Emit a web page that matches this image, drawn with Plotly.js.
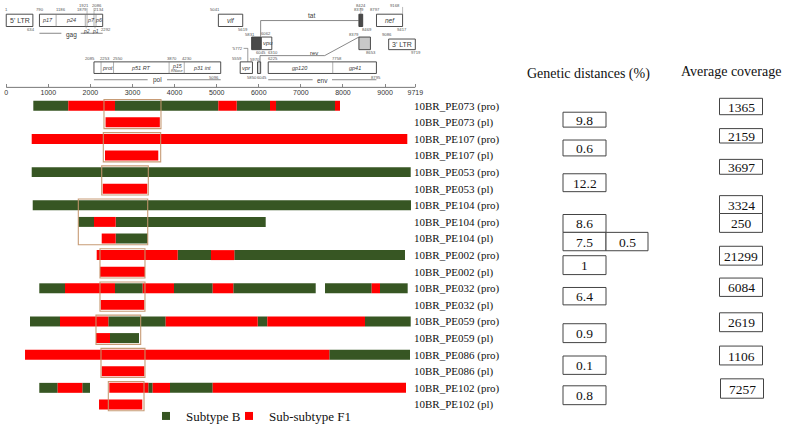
<!DOCTYPE html>
<html><head><meta charset="utf-8">
<script src="https://cdn.plot.ly/plotly-3.0.1.min.js"></script>
<style>html,body{margin:0;padding:0;background:#fff}#chart{width:787px;height:431px}</style>
</head><body><div id="chart"></div>
<script>
// ---------------- DATA ----------------
const rowLabels = ['10BR_PE073 (pro)','10BR_PE073 (pl)','10BR_PE107 (pro)','10BR_PE107 (pl)','10BR_PE053 (pro)','10BR_PE053 (pl)','10BR_PE104 (pro)','10BR_PE104 (pro)','10BR_PE104 (pl)','10BR_PE002 (pro)','10BR_PE002 (pl)','10BR_PE032 (pro)','10BR_PE032 (pl)','10BR_PE059 (pro)','10BR_PE059 (pl)','10BR_PE086 (pro)','10BR_PE086 (pl)','10BR_PE102 (pro)','10BR_PE102 (pl)'];

// Subtype B segments (row index, start, end in HXB2 nt)
const bRow   = [0,0,0,0,4,6,7,7,8,9,9,11,11,11,11,11,11,13,13,13,13,14,15,17,17,17,17];
const bStart = [644,2585,5476,6410,606,630,1713,2601,2601,4074,5419,786,2585,3986,5395,7574,8880,565,2426,5975,8524,2466,7676,786,1808,3376,3891];
const bEnd   = [1475,5039,6267,7811,9610,9617,2086,6165,3362,4865,9474,1397,3243,4906,7353,8683,9538,1278,3789,6203,9610,3155,9593,1223,1991,3480,4906];

// Sub-subtype F1 segments
const fRow   = [0,0,0,0,1,2,3,5,7,8,9,9,10,11,11,11,11,12,13,13,13,14,15,16,17,17,17,17,18];
const fStart = [1475,5039,6267,7811,2360,606,2347,2293,2086,2269,2150,4865,2228,1397,3243,4906,8683,2245,1278,3789,6203,2133,447,2269,1223,2449,3480,4906,2205];
const fEnd   = [2585,5476,6410,7930,3650,9529,3613,3352,2601,2601,4074,5419,3297,2585,3986,5395,8880,3281,2426,5975,8524,2466,7676,3281,1808,3376,3891,9498,3233];

// Compared regions (boxes)
const cmpStart   = [2323,2307,2269,1713,2228,2228,2133,2252,2426];
const cmpEnd     = [3677,3670,3376,3362,3297,3297,3195,3297,3274];
const cmpRowFrom = [0,2,4,6,9,11,13,15,17];
const cmpRowTo   = [1,3,5,8,10,12,14,16,18];

// Genetic distances (%) and average coverage
const distValue = [9.8,0.6,12.2,8.6,7.5,0.5,1,6.4,0.9,0.1,0.8];
const covValue  = [1365,2159,3697,3324,250,21299,6084,2619,1106,7257];

// HIV-1 genome map (HXB2 coordinates)
const mapBoxName  = ["5' LTR",'gag','vif','tat2','nef','tat1','vpu','rev2',"3' LTR",'pol','vpr','rev1','env'];
const mapBoxStart = [1,790,5041,8379,8797,5831,6062,8379,9086,2085,5559,5970,6225];
const mapBoxEnd   = [634,2292,5619,8469,9417,6045,6310,8653,9719,5096,5850,6045,8795];
const gagCuts = [1186,1879,1921,2086,2134];
const polCuts = [2253,2550,3870,4230];
const envCuts = [7758];
const protName  = ['p17','p24','p7','p6','prot','p51 RT','p31 int','gp120','gp41'];
const protStart = [790,1186,1921,2134,2253,2550,4230,6225,7758];
const protEnd   = [1186,1879,2086,2292,2550,3870,5096,7758,8795];
const coordLabel = [1,790,1186,1879,1921,2086,2134,5041,8379,8424,8797,9168,634,2292,5619,8469,9417,5831,6062,8379,9086,6045,6310,8653,9719,2085,2253,2550,3870,4230,5559,5970,6225,7758,5096,5850,6045,8795];
const axisTicks = [0,1000,2000,3000,4000,5000,6000,7000,8000,9000,9719];

// ---------------- LAYOUT HELPERS (positions / styles) ----------------
const W = 787, H = 431;
const X0PX = 6.2, PXPERBP = 0.042093;
const xr = [-X0PX / PXPERBP, (W - X0PX) / PXPERBP];
const ROW0PX = 106.5, ROWPX = 16.71;
const yr = [(H - ROW0PX) / ROWPX, -ROW0PX / ROWPX];
const GREEN = '#375623', RED = '#ff0000', BOXC = 'rgba(196,150,110,0.95)';
const MAPLINE = '#3a3a3a', MAPTXT = '#3a3a3a';
const SANS = 'Liberation Sans';
const SERIF = 'Liberation Serif';
const AXISY = 88;

// map row levels (pixel y on y2)
const mapBoxTop = [14.3,14.3,14.3,14.3,14.3,37.3,37.3,37.3,39.3,62.3,62.3,62.3,62.3];
const mapBoxBot = [26.7,26.7,26.7,26.7,26.7,50,50,50,50,74,74,74,74];
const mapBoxFill = ['#fff','#fff','#fff','#4a4a4a','#fff','#4a4a4a','#fff','#c8c8c8','#fff','#fff','#fff','#cfcfcf','#fff'];
const coordY = [10,10,10,10,6,6,10,10,10,6,10,5.5,29.5,29.5,29.5,29.5,29.5,34.8,34,34.8,34.3,53,53,53,53,58.5,58.5,58.5,58.5,58.5,59.3,59.5,58.5,58.5,77.7,77.7,77.7,77.7];
const coordShift = [0,1,5,-3.6,-3,2.7,3,-3.4,0,0,-1.5,3,-2,3,0,4,-1,-2,5,-5,-2,0,1.5,1,1,-4,4,4,2.5,2.5,-3.5,-3,4.5,4,-6.7,0,1.5,0];

// table layout (pixels)
const distBoxX0 = [563,563,563,563,563,606,563,563,563,563,563];
const distBoxX1 = [606,606,606,606,606,648,606,606,606,606,606];
const distBoxY0 = [113,141,175,216,234,234,257.5,289.5,326,358.5,388.5];
const distBoxY1 = [128,157,193,234,252.5,252.5,276.5,307,345,377,407.5];
const covBoxX0 = [719.5,719.5,719.5,719.5,719.5,719.5,719.5,719.5,719.5,720.5];
const covBoxY0 = [99,129.5,160.5,197,215,248,280,315,348.5,381.5];
const covBoxY1 = [115.5,144,175.5,215,234,267,298.5,334,367.5,401];

// ---------------- TRACES ----------------
const traces = [
  {type:'bar', orientation:'h', name:'Subtype B', y:bRow, base:bStart,
   x:bEnd.map((e,i)=>e-bStart[i]), width:0.6, marker:{color:GREEN, line:{width:0}},
   showlegend:false, hoverinfo:'skip'},
  {type:'bar', orientation:'h', name:'Sub-subtype F1', y:fRow, base:fStart,
   x:fEnd.map((e,i)=>e-fStart[i]), width:0.6, marker:{color:RED, line:{width:0}},
   showlegend:false, hoverinfo:'skip'},
  {type:'scatter', mode:'markers', name:'Subtype B', x:[null], y:[null], legend:'legend',
   marker:{symbol:'square', size:8, color:GREEN}, showlegend:true, hoverinfo:'skip'},
  {type:'scatter', mode:'markers', name:'Sub-subtype F1', x:[null], y:[null], legend:'legend2',
   marker:{symbol:'square', size:8, color:RED}, showlegend:true, hoverinfo:'skip'}
];

// ---------------- SHAPES ----------------
const shapes = [];
const line = (x0,y0,x1,y1,c,w,xref,yref)=>shapes.push({type:'line',xref:xref||'x',yref:yref||'y2',x0,y0,x1,y1,line:{color:c||MAPLINE,width:w||0.8},layer:'above'});
const rect = (x0,y0,x1,y1,c,w,fill,xref,yref)=>shapes.push({type:'rect',xref:xref||'x',yref:yref||'y2',x0,y0,x1,y1,line:{color:c||MAPLINE,width:w||0.9},fillcolor:fill||'rgba(0,0,0,0)',layer:'above'});

// comparison boxes over bars
cmpStart.forEach((s,i)=>rect(s, cmpRowFrom[i]-0.38, cmpEnd[i], cmpRowTo[i]+0.38, BOXC, 1.1, null, 'x', 'y'));

// genome map boxes
mapBoxName.forEach((n,i)=>rect(mapBoxStart[i], mapBoxTop[i], mapBoxEnd[i], mapBoxBot[i], MAPLINE, 0.9, mapBoxFill[i]));
gagCuts.forEach(c=>line(c,14.3,c,26.7,'#777',0.6));
polCuts.forEach(c=>line(c,62.3,c,74,'#777',0.6));
envCuts.forEach(c=>line(c,62.3,c,74,'#777',0.6));
// connector ticks
line(1921,8,1921,14.3,'#777',0.5); line(2086,8,2086,14.3,'#777',0.5);
line(1900,26.7,1900,28.6,'#777',0.5); line(2110,26.7,2110,28.6,'#777',0.5);
line(8424,8,8424,14,'#777',0.5);
line(9417,7,9417,14.3,'#777',0.5);
// gene span lines, with a gap for the gene name
const spanLine = (s,e,y,gap)=>{const m=(s+e)/2; line(s,y,m-gap,y,'#555',0.7); line(m+gap,y,e,y,'#555',0.7);};
spanLine(790,2292,33.5,230);
spanLine(2085,5096,80.3,230);
spanLine(6225,8795,80.3,230);
// tat splice line
line(6045,37.3,6045,20.7,'#555',0.7); line(6045,20.7,8379,20.7,'#555',0.7);
// rev splice line
line(6030,62.3,6030,56,'#555',0.7); line(6030,56,7566,56,'#555',0.7); line(7566,56,8379,37.3,'#555',0.7);
// 5772 pointer
line(5640,48.7,5740,48.7,'#555',0.6); line(5740,48.7,5740,62.3,'#555',0.6);
// genome axis line
line(0,AXISY,9719,AXISY,'#555',0.8);

// table boxes
distValue.forEach((v,i)=>rect(distBoxX0[i]/W, distBoxY0[i], distBoxX1[i]/W, distBoxY1[i], '#444', 1, '#fff', 'paper', 'y2'));
covValue.forEach((v,i)=>rect(covBoxX0[i]/W, covBoxY0[i], (covBoxX0[i]+43)/W, covBoxY1[i], '#444', 1, '#fff', 'paper', 'y2'));

// ---------------- ANNOTATIONS ----------------
const ann = [];
const txt = (x,y,t,o)=>ann.push(Object.assign({x,y,text:t,xref:'x',yref:'y2',showarrow:false,xanchor:'center',yanchor:'middle',
  font:{family:SANS,size:6,color:MAPTXT}},o||{}));

coordLabel.forEach((v,i)=>txt(v, coordY[i], String(v), {xshift:coordShift[i], font:{family:SANS,size:4.2,color:'#555'}}));
txt(5772, 48.7, "'5772", {xshift:-12, font:{family:SANS,size:4.2,color:'#555'}});

const midOf = (i)=>(mapBoxStart[i]+mapBoxEnd[i])/2;
txt(midOf(0), 20.5, "5' LTR", {font:{family:SANS,size:7,color:MAPTXT}});
txt(midOf(8), 44.7, "3' LTR", {font:{family:SANS,size:7,color:MAPTXT}});
const ital = (s)=>({font:{family:SANS,size:s,color:MAPTXT,style:'italic'}});
txt(midOf(2), 20.5, 'vif', ital(6.5));
txt(midOf(4), 20.5, 'nef', ital(6.5));
txt(midOf(6)+40, 43.7, 'vpu', ital(6));
txt(midOf(10), 68, 'vpr', ital(6));
protName.forEach((p,i)=>txt((protStart[i]+protEnd[i])/2, i<4?20.5:68, p, ital(5.5)));
txt(4050, 66, 'p15', ital(5.2));
txt(4050, 71, 'RNase', ital(3.8));
txt(1900, 30.8, 'p2', ital(5));
txt(2110, 30.8, 'p1', ital(5));
txt((790+2292)/2, 35.3, 'gag', {font:{family:SANS,size:6.5,color:MAPTXT}});
txt((2085+5096)/2, 80.6, 'pol', {font:{family:SANS,size:6.5,color:MAPTXT}});
txt((6225+8795)/2, 80.6, 'env', {font:{family:SANS,size:6.5,color:MAPTXT}});
txt(7258, 16, 'tat', {font:{family:SANS,size:6.5,color:MAPTXT}});
txt(7310, 53.2, 'rev', {font:{family:SANS,size:6,color:MAPTXT}});

// table headers and values
const ptxt = (xpx,y,t,size)=>ann.push({x:xpx/W,y,text:t,xref:'paper',yref:'y2',showarrow:false,xanchor:'center',yanchor:'middle',
  font:{family:SERIF,size:size,color:'#111'}});
ptxt(588, 75, 'Genetic distances (%)', 14);
ptxt(731, 72, 'Average coverage', 14);
distValue.forEach((v,i)=>ptxt((distBoxX0[i]+distBoxX1[i])/2, (distBoxY0[i]+distBoxY1[i])/2+0.5, String(v), 13.5));
covValue.forEach((v,i)=>ptxt(covBoxX0[i]+21.5, (covBoxY0[i]+covBoxY1[i])/2+0.5, String(v), 13.5));

const legendStyle = (xpx)=>({orientation:'h', x:xpx/W, xanchor:'left', y:1-419/H, yanchor:'middle',
  font:{family:SERIF,size:13,color:'#111'}, bgcolor:'rgba(0,0,0,0)', itemclick:false});

const layout = {
  width:W, height:H, margin:{l:0,r:0,t:0,b:0},
  paper_bgcolor:'#fff', plot_bgcolor:'rgba(0,0,0,0)',
  barmode:'overlay', showlegend:true, hovermode:false,
  xaxis:{domain:[0,1], range:xr, anchor:'free', position:1-AXISY/H,
    tickmode:'array', tickvals:axisTicks, ticktext:axisTicks.map(String),
    ticks:'inside', ticklen:3, tickwidth:0.7, tickcolor:'#555',
    showline:false, showgrid:false, zeroline:false, fixedrange:true,
    tickfont:{family:SANS,size:7,color:'#333'}},
  yaxis:{domain:[0,1], range:yr, anchor:'free', position:413/W, side:'right',
    tickmode:'array', tickvals:rowLabels.map((_,i)=>i), ticktext:rowLabels,
    ticks:'', showline:false, showgrid:false, zeroline:false, fixedrange:true,
    tickfont:{family:SERIF,size:11,color:'#111'}},
  yaxis2:{overlaying:'y', range:[H,0], visible:false, anchor:'x', fixedrange:true},
  legend:legendStyle(146),
  legend2:legendStyle(229),
  shapes, annotations:ann
};
Plotly.newPlot('chart', traces, layout, {displayModeBar:false, staticPlot:true});
</script></body></html>
